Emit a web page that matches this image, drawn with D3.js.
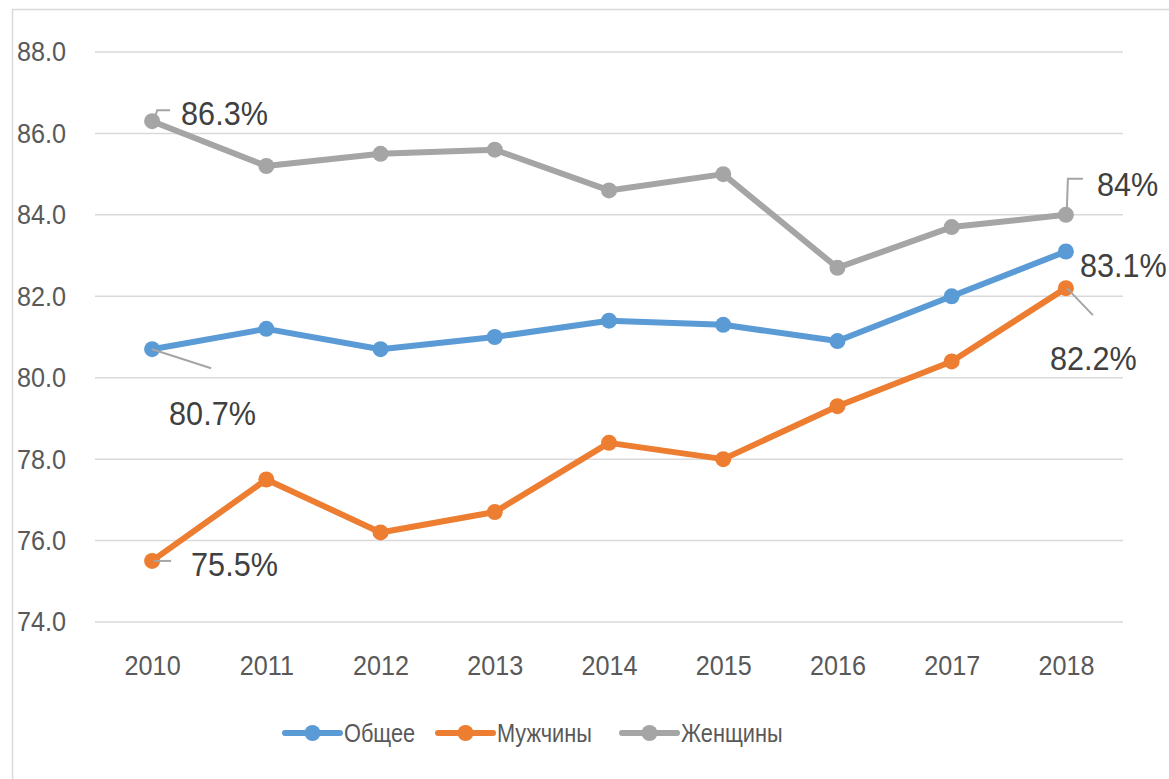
<!DOCTYPE html>
<html>
<head>
<meta charset="utf-8">
<script src="https://cdn.jsdelivr.net/npm/d3@7"></script>
<style>
  body { margin: 0; background: #fff; }
  text { font-family: "Liberation Sans", Arial, sans-serif; }
</style>
</head>
<body>
<script>
// categories and series
var years = ['2010', '2011', '2012', '2013', '2014', '2015', '2016', '2017', '2018'];
var total = [80.7, 81.2, 80.7, 81.0, 81.4, 81.3, 80.9, 82.0, 83.1];
var men   = [75.5, 77.5, 76.2, 76.7, 78.4, 78.0, 79.3, 80.4, 82.2];
var women = [86.3, 85.2, 85.5, 85.6, 84.6, 85.0, 82.7, 83.7, 84.0];
var seriesNames = ['Общее', 'Мужчины', 'Женщины'];
var yTicks = [74, 76, 78, 80, 82, 84, 86, 88];

var W = 1169, H = 779;
var colors = ['#5b9bd5', '#ed7d31', '#a5a5a5'];
var allSeries = [total, men, women];
// the original font is narrow, so squeeze text horizontally
var SQUEEZE = 'scale(0.9,1)';

var svg = d3.select('body').append('svg')
	.attr('width', W)
	.attr('height', H);

// chart frame (only top and left edges fall inside the picture)
svg.append('rect')
	.attr('x', 12.5).attr('y', 9.5)
	.attr('width', W + 20).attr('height', H + 20)
	.attr('fill', 'none')
	.attr('stroke', '#d9d9d9')
	.attr('stroke-width', 1.5);

var x = d3.scalePoint().domain(years).range([95, 1123]).padding(0.5);
var y = d3.scaleLinear().domain([74, 88]).range([622, 52]);

// gridlines
svg.append('g')
	.selectAll('line')
	.data(yTicks)
	.enter().append('line')
	.attr('x1', 95).attr('x2', 1123)
	.attr('y1', function(d) { return y(d); })
	.attr('y2', function(d) { return y(d); })
	.attr('stroke', '#d9d9d9')
	.attr('stroke-width', 1.5);

// y axis labels
var yAxis = d3.axisLeft(y).tickValues(yTicks).tickFormat(d3.format('.1f')).tickSize(0).tickPadding(0);
svg.append('g')
	.attr('transform', 'translate(66,0)')
	.call(yAxis)
	.call(function(g) { g.select('.domain').remove(); })
	.selectAll('text')
	.attr('x', 0)
	.attr('transform', SQUEEZE)
	.attr('fill', '#595959')
	.style('font-size', '28px')
	.style('font-family', '"Liberation Sans", Arial, sans-serif');

// x axis labels
var xAxis = d3.axisBottom(x).tickSize(0).tickPadding(0);
svg.append('g')
	.attr('transform', 'translate(0,655)')
	.call(xAxis)
	.call(function(g) { g.select('.domain').remove(); })
	.selectAll('text')
	.attr('transform', SQUEEZE)
	.attr('fill', '#595959')
	.style('font-size', '28px')
	.style('font-family', '"Liberation Sans", Arial, sans-serif');

// lines + markers, women first so blue/orange sit on top
var line = d3.line()
	.x(function(d, i) { return x(years[i]); })
	.y(function(d) { return y(d); });

[2, 0, 1].forEach(function(s) {
	svg.append('path')
		.datum(allSeries[s])
		.attr('d', line)
		.attr('fill', 'none')
		.attr('stroke', colors[s])
		.attr('stroke-width', 6)
		.attr('stroke-linejoin', 'round');
	svg.append('g')
		.selectAll('circle')
		.data(allSeries[s])
		.enter().append('circle')
		.attr('cx', function(d, i) { return x(years[i]); })
		.attr('cy', function(d) { return y(d); })
		.attr('r', 8)
		.attr('fill', colors[s]);
});

// data labels with leader lines (offsets relative to the point)
var labels = [
	{ s: 2, i: 0, dx: 29, dy: -8, leader: [[3, -4], [5, -11], [18, -11]] },
	{ s: 0, i: 0, dx: 17, dy: 64, leader: [[0, 0], [59, 19]] },
	{ s: 1, i: 0, dx: 39, dy: 3, leader: [[2, 0], [19, 0]] },
	{ s: 2, i: 8, dx: 31, dy: -31, leader: [[1, -7], [2, -36], [17, -36]] },
	{ s: 0, i: 8, dx: 14, dy: 14, leader: null },
	{ s: 1, i: 8, dx: -16, dy: 70, leader: [[1, 0], [27, 27]] }
];

labels.forEach(function(l) {
	var v = allSeries[l.s][l.i];
	var px = x(years[l.i]), py = y(v);
	if (l.leader) {
		svg.append('path')
			.attr('d', d3.line()(l.leader.map(function(p) { return [px + p[0], py + p[1]]; })))
			.attr('fill', 'none')
			.attr('stroke', '#a5a5a5')
			.attr('stroke-width', 2);
	}
	svg.append('text')
		.attr('transform', 'translate(' + (px + l.dx) + ',' + (py + l.dy) + ') ' + SQUEEZE)
		.attr('dy', '0.35em')
		.attr('fill', '#404040')
		.style('font-size', '34px')
		.text(String(v) + '%');
});

// legend
var legendX = [285, 438, 622];
var legend = svg.append('g');
seriesNames.forEach(function(name, s) {
	var lx = legendX[s], ly = 733;
	legend.append('line')
		.attr('x1', lx).attr('x2', lx + 55)
		.attr('y1', ly).attr('y2', ly)
		.attr('stroke', colors[s])
		.attr('stroke-width', 6)
		.attr('stroke-linecap', 'round');
	legend.append('circle')
		.attr('cx', lx + 27.5).attr('cy', ly)
		.attr('r', 8)
		.attr('fill', colors[s]);
	legend.append('text')
		.attr('transform', 'translate(' + (lx + 59) + ',' + ly + ') scale(0.87,1)')
		.attr('dy', '0.35em')
		.attr('fill', '#595959')
		.style('font-size', '25px')
		.text(name);
});
</script>
</body>
</html>
